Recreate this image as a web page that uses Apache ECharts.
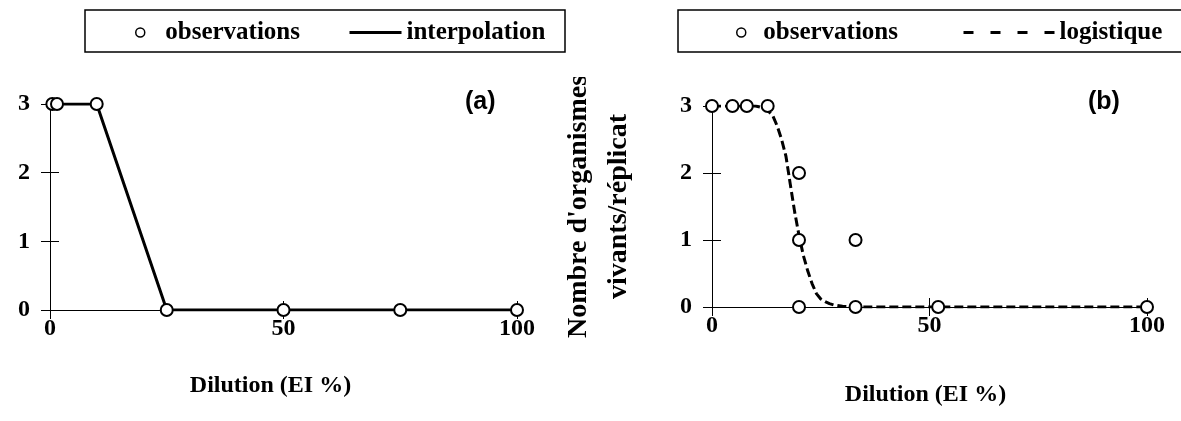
<!DOCTYPE html>
<html><head><meta charset="utf-8">
<script src="https://cdn.jsdelivr.net/npm/echarts@6/dist/echarts.min.js"></script>
<style>html,body{margin:0;padding:0;background:#fff}#c{width:1181px;height:421px}</style>
</head><body><div id="c"></div>
<script>
// ---- data ----
const xTickLabels = [0, 50, 100];
const yTickLabels = [0, 1, 2, 3];
// panel (a)
const obsAX = [0.5, 1.5, 10, 25, 50, 75, 100];
const obsAY = [3, 3, 3, 0, 0, 0, 0];
// panel (b)
const obsBX = [0, 4.7, 8, 12.8, 20, 20, 20, 33, 33, 52, 100];
const obsBY = [3, 3, 3, 3, 2, 1, 0, 1, 0, 0, 0];
const logX = [0, 5, 10, 12.5, 14, 15, 16, 17, 18, 19, 20, 21, 22, 23, 24, 25, 26, 27, 28, 30, 33, 40, 52, 60, 70, 80, 90, 100];
const logY = [3, 3, 3, 2.96, 2.85, 2.7, 2.5, 2.25, 1.83, 1.42, 1.07, 0.77, 0.54, 0.35, 0.2, 0.12, 0.08, 0.05, 0.03, 0.01, 0, 0, 0, 0, 0, 0, 0, 0];

const zip = (xs, ys) => xs.map((x, i) => [x, ys[i]]);
const SERIF = 'Liberation Serif';
const lblStyle = {fontFamily: SERIF, fontWeight: 'bold', fontSize: 24, color: '#000'};
const axLine = {lineStyle: {color: '#000', width: 1}};

function xAxes(grid, nameGap, shift) {
  return [
    {type: 'value', gridIndex: grid, min: 0, max: 100, interval: 50,
     axisLine: axLine, axisTick: {show: true, length: 9, lineStyle: {color: '#000'}},
     splitLine: {show: false},
     axisLabel: Object.assign({margin: 7, formatter: v => xTickLabels.includes(v) ? String(v) : ''}, lblStyle),
     name: 'Dilution (EI %)', nameLocation: 'middle', nameGap: nameGap,
     nameTextStyle: {fontFamily: SERIF, fontWeight: 'bold', fontSize: 24, color: '#000', padding: [0, shift, 0, 0]}},
    {type: 'value', gridIndex: grid, min: 0, max: 100, interval: 50, position: 'bottom',
     axisLine: {show: false}, axisTick: {show: true, inside: true, length: 9, lineStyle: {color: '#000'}},
     axisLabel: {show: false}, splitLine: {show: false}}
  ];
}
function yAxes(grid, extra) {
  return [
    Object.assign({type: 'value', gridIndex: grid, min: 0, max: 3, interval: 1,
     axisLine: Object.assign({onZero: false}, axLine), axisTick: {show: true, length: 9, lineStyle: {color: '#000'}},
     splitLine: {show: false},
     axisLabel: Object.assign({margin: 20, formatter: v => yTickLabels.includes(v) ? String(v) : ''}, lblStyle)}, extra || {}),
    {type: 'value', gridIndex: grid, min: 0, max: 3, interval: 1, position: 'left',
     axisLine: {show: false}, axisTick: {show: true, inside: true, length: 9, lineStyle: {color: '#000'}},
     axisLabel: {show: false}, splitLine: {show: false}}
  ];
}

const obsStyle = {color: '#fff', borderColor: '#000', borderWidth: 2, opacity: 1};
const legText = {fontFamily: SERIF, fontWeight: 'bold', fontSize: 25, color: '#000'};
const noDot = {color: 'rgba(0,0,0,0)', borderColor: 'rgba(0,0,0,0)', borderWidth: 0};
function legObs(left, w) {
  return {data: [{name: 'observations', icon: 'circle', itemStyle: {color: '#fff', borderColor: '#000', borderWidth: 1.5, opacity: 1}}],
          left: left, top: 20, itemWidth: w, itemHeight: 9, itemGap: 0,
          padding: 0, selectedMode: false, textStyle: legText};
}
function legLine(name, left, w, dash) {
  return {data: [{name: name, itemStyle: noDot, lineStyle: {color: '#000', width: 3, type: dash}}],
          left: left, top: 20, itemWidth: w, itemHeight: 9, itemGap: 0,
          padding: 0, selectedMode: false, textStyle: legText};
}

const option = {
  backgroundColor: '#fff',
  animation: false,
  title: [
    {text: '(a)', left: 465, top: 90, padding: 0, textStyle: {fontFamily: 'Liberation Sans', fontWeight: 'bold', fontSize: 25, color: '#000'}},
    {text: '(b)', left: 1088, top: 90, padding: 0, textStyle: {fontFamily: 'Liberation Sans', fontWeight: 'bold', fontSize: 25, color: '#000'}}
  ],
  legend: [
    legObs(135, 40),
    legLine('interpolation', 348, 52, 'solid'),
    legObs(736, 34),
    legLine('logistique', 962, 91, [10, 17])
  ],
  grid: [
    {left: 50, width: 467, top: 104, height: 206},
    {left: 712, width: 435, top: 106, height: 201}
  ],
  xAxis: [...xAxes(0, 64, 26), ...xAxes(1, 76, 8)],
  yAxis: [...yAxes(0), ...yAxes(1, {
    name: "Nombre d'organismes\nvivants/réplicat", nameLocation: 'middle', nameRotate: 90, nameGap: 73,
    nameTextStyle: {fontFamily: SERIF, fontWeight: 'bold', fontSize: 28, color: '#000', lineHeight: 40}
  })],
  series: [
    {name: 'interpolation', type: 'line', xAxisIndex: 0, yAxisIndex: 0, data: zip(obsAX, obsAY),
     symbol: 'none', lineStyle: {color: '#000', width: 3}, z: 2},
    {name: 'observations', type: 'scatter', xAxisIndex: 0, yAxisIndex: 0, data: zip(obsAX, obsAY),
     symbol: 'circle', symbolSize: 12, itemStyle: obsStyle, z: 5},
    {name: 'logistique', type: 'line', xAxisIndex: 2, yAxisIndex: 2, data: zip(logX, logY),
     symbol: 'none', lineStyle: {color: '#000', width: 3, type: [9, 4]}, z: 2},
    {name: 'observations', type: 'scatter', xAxisIndex: 2, yAxisIndex: 2, data: zip(obsBX, obsBY),
     symbol: 'circle', symbolSize: 12, itemStyle: obsStyle, z: 5}
  ],
  graphic: [
    {type: 'rect', shape: {x: 85, y: 10, width: 480, height: 42}, style: {fill: 'none', stroke: '#000', lineWidth: 1.5}, silent: true},
    {type: 'rect', shape: {x: 678, y: 10, width: 600, height: 42}, style: {fill: 'none', stroke: '#000', lineWidth: 1.5}, silent: true},
    {type: 'rect', shape: {x: 555, y: 54, width: 45, height: 23}, style: {fill: '#fff'}, z: 100, silent: true}
  ]
};
const chart = echarts.init(document.getElementById('c'), null, {renderer: 'canvas'});
chart.setOption(option);
</script>
</body></html>
